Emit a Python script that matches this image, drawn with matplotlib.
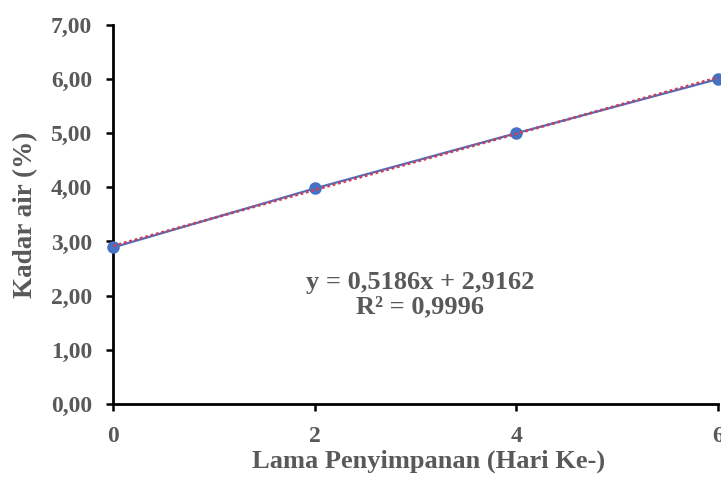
import matplotlib
matplotlib.use("Agg")
import matplotlib.pyplot as plt
import numpy as np

# storage day vs moisture content
days = [0, 2, 4, 6]
moisture = [2.89, 3.98, 5.00, 6.00]

# linear trend as printed on the chart
slope, intercept = 0.5186, 2.9162
r2_text = "0,9996"

y_ticks = [0, 1, 2, 3, 4, 5, 6, 7]
x_ticks = [0, 2, 4, 6]

GRAY = "#595959"
BLUE = "#4472C4"
RED = "#C8405A"

plt.rcParams["font.family"] = ["Liberation Serif", "DejaVu Serif"]
plt.rcParams["font.weight"] = "bold"

fig = plt.figure(figsize=(7.21, 4.78), dpi=100)
ax = fig.add_axes([0.157, 0.155, 0.839, 0.793])

ax.plot(days, moisture, color=BLUE, lw=1.6, marker="o", ms=8, zorder=3, clip_on=False)
trend_x = np.array([days[0], days[-1]])
ax.plot(trend_x, slope * trend_x + intercept, color=RED, lw=2.0, ls=(0, (1, 1)),
        zorder=4, clip_on=False)

ax.set_xlim(0, 6)
ax.set_ylim(0, 7)
ax.set_xticks(x_ticks)
ax.set_yticks(y_ticks)
ax.set_yticklabels([f"{v:.2f}".replace(".", ",") for v in y_ticks])

for s in ["top", "right"]:
    ax.spines[s].set_visible(False)
for s in ["left", "bottom"]:
    ax.spines[s].set_color("black")
    ax.spines[s].set_linewidth(2)
ax.tick_params(axis="both", colors="black", width=1.8, length=5, labelcolor=GRAY,
               labelsize=17, pad=10)
ax.tick_params(axis="x", pad=11)

ax.set_xlabel("Lama Penyimpanan (Hari Ke-)", fontsize=19, color=GRAY, fontweight="bold")
ax.set_ylabel("Kadar air (%)", fontsize=19.5, color=GRAY, fontweight="bold", va="center")
ax.xaxis.set_label_coords(0.522, -0.12)
ax.yaxis.set_label_coords(-0.145, 0.5)

ax.text(0.508, 0.288, f"y = {slope:.4f}x + {intercept:.4f}".replace(".", ",") + f"\nR² = {r2_text}",
        transform=ax.transAxes, ha="center", va="center", fontsize=19, color=GRAY,
        fontweight="bold", linespacing=1.08)

fig.savefig("out.png", dpi=100)
